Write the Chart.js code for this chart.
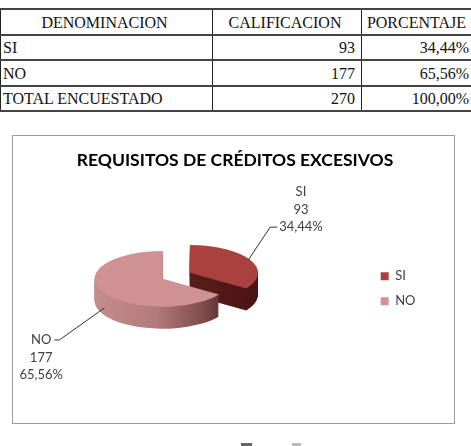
<!DOCTYPE html>
<html>
<head>
<meta charset="utf-8">
<script src="https://cdn.jsdelivr.net/npm/chart.js@4.4.0/dist/chart.umd.min.js"></script>
<style>
  body { margin: 0; background: #fff; width: 471px; height: 446px; overflow: hidden; position: relative; }
  table {
    position: absolute; left: 0; top: 8px; width: 475px;
    border-collapse: collapse; table-layout: fixed;
    font: 16px "Liberation Serif", "Times New Roman", serif; color: #111;
  }
  td {
    height: 21.5px; padding: 2px 6px 0 2px; white-space: nowrap;
    border-left: 1px solid #222; border-right: 1px solid #222;
    border-top: 2px solid #444; border-bottom: 2px solid #444;
  }
  td.c { text-align: center; }
  td.r { text-align: right; }
  #box {
    position: absolute; left: 12px; top: 135px; width: 443px; height: 289px;
    box-sizing: border-box; border: 1px solid #9c9c9c;
  }
  #chart { position: absolute; left: 0; top: 0; }
  .mark { position: absolute; top: 443px; height: 3px; }
</style>
</head>
<body>
<table id="tbl">
  <colgroup><col style="width:212px"><col style="width:149px"><col style="width:114px"></colgroup>
  <tbody></tbody>
</table>
<div id="box"><canvas id="chart" width="441" height="287"></canvas></div>
<div class="mark" style="left:241px;width:11px;background:#666"></div>
<div class="mark" style="left:292px;width:9px;background:#bbb"></div>
<script>
// data
const categories = ['SI', 'NO'];
const values = [93, 177];
const tableHeaders = ['DENOMINACION', 'CALIFICACION', 'PORCENTAJE'];
const totalLabel = 'TOTAL ENCUESTADO';
const chartTitle = 'REQUISITOS DE CRÉDITOS EXCESIVOS';

const total = values.reduce((a, b) => a + b, 0);
const fmtPct = v => (v / total * 100).toFixed(2).replace('.', ',') + '%';

// table above the chart
const tbody = document.querySelector('#tbl tbody');
function addRow(cells, classes) {
  const tr = document.createElement('tr');
  cells.forEach((txt, i) => {
    const td = document.createElement('td');
    td.textContent = txt;
    if (classes[i]) td.className = classes[i];
    tr.appendChild(td);
  });
  tbody.appendChild(tr);
}
addRow(tableHeaders, ['c', 'c', 'c']);
categories.forEach((c, i) => addRow([c, values[i], fmtPct(values[i])], ['', 'r', 'r']));
addRow([totalLabel, total, fmtPct(total)], ['', 'r', 'r']);

// colours
const topColors = ['#a9423f', '#cf9191'];
const sideStops = [
  [[0, '#6a2421'], [1, '#4a1414']],
  [[0, '#c48c8c'], [0.45, '#b27a7a'], [0.8, '#7f4b4b'], [1, '#4a2727']]
];

// fake 3D pie: squash + extrude the arc elements
function geom(chart, i, o) {
  const el = chart.getDatasetMeta(0).data[i];
  const mid = (el.startAngle + el.endAngle) / 2;
  const e = o.explode[i] || 0;
  return {
    el, mid,
    x: el.x + o.shiftX + e * Math.cos(mid),
    yc: el.y + o.shiftY,
    ey: e * Math.sin(mid)
  };
}

function paint(ctx, g, k, d, fill) {
  const el = g.el;
  ctx.save();
  ctx.translate(g.x - el.x, g.yc + d);
  ctx.scale(1, k);
  ctx.translate(0, -el.y + g.ey);
  const proxy = Object.create(el);
  proxy.options = Object.assign({}, el.options, { backgroundColor: fill, borderWidth: 0, offset: 0 });
  proxy.draw(ctx);
  ctx.restore();
}

function toScreen(g, k, r, a, d) {
  return {
    x: g.x + r * Math.cos(a),
    y: g.yc + k * (g.ey + r * Math.sin(a)) + d
  };
}

const pie3d = {
  id: 'pie3d',
  beforeDatasetsDraw(chart, args, o) {
    const ctx = chart.ctx;
    const n = chart.getDatasetMeta(0).data.length;
    const gs = [];
    for (let i = 0; i < n; i++) gs.push(geom(chart, i, o));
    // back slices first
    const order = gs.map((g, i) => i).sort((a, b) => gs[a].ey - gs[b].ey);
    order.forEach(i => {
      const g = gs[i];
      const R = g.el.outerRadius;
      const grad = ctx.createLinearGradient(g.el.x - R, 0, g.el.x + R, 0);
      sideStops[i].forEach(s => grad.addColorStop(s[0], s[1]));
      for (let d = o.depth; d >= 1; d--) paint(ctx, g, o.tilt, d, grad);
      paint(ctx, g, o.tilt, 0, g.el.options.backgroundColor);
    });
    return false;
  },
  afterDraw(chart, args, o) {
    const ctx = chart.ctx;
    const n = chart.getDatasetMeta(0).data.length;
    ctx.save();
    ctx.font = '13px Lato';
    ctx.fillStyle = '#404040';
    ctx.strokeStyle = '#333';
    ctx.lineWidth = 1;
    ctx.textAlign = 'center';
    ctx.textBaseline = 'middle';
    for (let i = 0; i < n; i++) {
      const g = geom(chart, i, o);
      const R = g.el.outerRadius;
      const down = Math.sin(g.mid) > 0;
      const right = Math.cos(g.mid) > 0;
      const p0 = toScreen(g, o.tilt, R * 0.97, g.mid, down ? o.depth * 0.75 : 0);
      const p1 = { x: p0.x + o.leaders[i][0], y: p0.y + o.leaders[i][1] };
      const p2 = { x: p1.x + (right ? 7 : -5), y: p1.y };
      ctx.beginPath();
      ctx.moveTo(p0.x, p0.y);
      ctx.lineTo(p1.x, p1.y);
      ctx.lineTo(p2.x, p2.y);
      ctx.stroke();
      const lines = [categories[i], String(values[i]), fmtPct(values[i])];
      const lh = 17.5;
      if (right) {
        const w = ctx.measureText(lines[lines.length - 1]).width;
        const cx = p2.x + 2 + w / 2;
        lines.forEach((t, j) => ctx.fillText(t, cx, p2.y - (lines.length - 1 - j) * lh));
      } else {
        const w = ctx.measureText(lines[0]).width;
        const cx = p2.x - 3 - w / 2;
        lines.forEach((t, j) => ctx.fillText(t, cx, p2.y + j * lh));
      }
    }
    ctx.restore();
  }
};

new Chart(document.getElementById('chart'), {
  type: 'pie',
  data: {
    labels: categories,
    datasets: [{
      data: values,
      backgroundColor: topColors,
      borderWidth: 0,
      radius: 68,
      clip: false
    }]
  },
  options: {
    responsive: false,
    animation: false,
    devicePixelRatio: 1,
    events: [],
    layout: { padding: { left: 31.5, right: 28.5, top: 0, bottom: 20.4 } },
    plugins: {
      title: {
        display: true,
        text: chartTitle,
        color: '#000',
        font: { family: 'Lato', size: 17.5, weight: 'bold' },
        padding: { top: 14, bottom: 4 }
      },
      legend: {
        position: 'right',
        fullSize: false,
        labels: {
          boxWidth: 8, boxHeight: 8, padding: 12,
          color: '#404040',
          font: { family: 'Lato', size: 13 }
        }
      },
      tooltip: { enabled: false },
      pie3d: {
        tilt: 0.41,
        depth: 22,
        explode: [31, 0],
        shiftX: -44,
        shiftY: -10,
        leaders: [[22, -33], [-45, 32]]
      }
    }
  },
  plugins: [pie3d]
});
</script>
</body>
</html>
